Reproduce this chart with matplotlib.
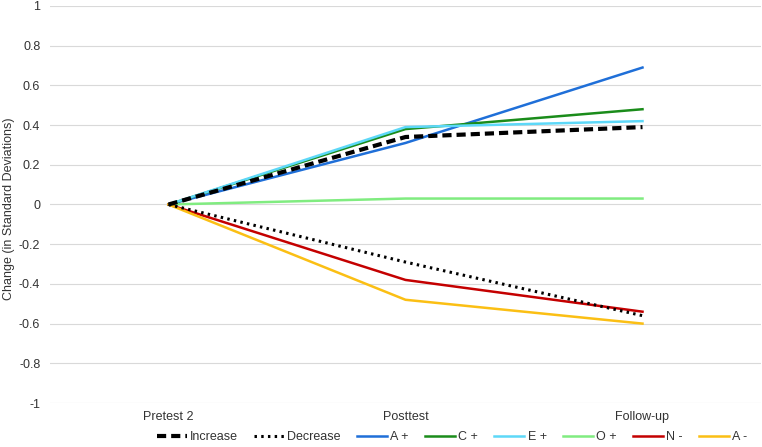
import matplotlib
matplotlib.use("Agg")
import matplotlib.pyplot as plt

plt.rcParams['font.family'] = ['Liberation Sans', 'DejaVu Sans']

categories = ["Pretest 2", "Posttest", "Follow-up"]
increase = [0, 0.34, 0.39]
decrease = [0, -0.29, -0.56]
a_plus = [0, 0.31, 0.69]
c_plus = [0, 0.38, 0.48]
e_plus = [0, 0.39, 0.42]
o_plus = [0, 0.03, 0.03]
n_minus = [0, -0.38, -0.54]
a_minus = [0, -0.48, -0.60]
yticks = [-1, -0.8, -0.6, -0.4, -0.2, 0, 0.2, 0.4, 0.6, 0.8, 1]
ytick_labels = ["-1", "-0.8", "-0.6", "-0.4", "-0.2", "0", "0.2", "0.4", "0.6", "0.8", "1"]

fig = plt.figure(figsize=(7.62, 4.47), dpi=100)
ax = fig.add_axes([50/762, 1-403/447, 711/762, 397/447])

x = list(range(len(categories)))
ax.plot(x, a_plus, color='#1F6FD8', lw=1.8, label='A +', zorder=3)
ax.plot(x, c_plus, color='#1A8C1A', lw=1.8, label='C +', zorder=3)
ax.plot(x, e_plus, color='#5DD8F8', lw=1.8, label='E +', zorder=3)
ax.plot(x, o_plus, color='#80EC80', lw=1.8, label='O +', zorder=3)
ax.plot(x, n_minus, color='#C40000', lw=1.8, label='N -', zorder=3)
ax.plot(x, a_minus, color='#FBBF14', lw=1.8, label='A -', zorder=3)
ax.plot(x, increase, color='black', lw=3, ls=(0, (2.2, 1.2)), label='Increase', zorder=4)
ax.plot(x, decrease, color='black', lw=2.2, ls=(0, (0.8, 1.4)), label='Decrease', zorder=4)

ax.set_xlim(-0.5, 2.5)
ax.set_ylim(-1, 1)
ax.set_yticks(yticks)
ax.set_yticklabels(ytick_labels)
ax.set_xticks(x)
ax.set_xticklabels(categories)
ax.grid(axis='y', color='#D9D9D9', lw=0.8)
ax.set_axisbelow(True)
for s in ax.spines.values():
    s.set_visible(False)
ax.tick_params(axis='both', length=0, labelsize=9, colors='#333333')
ax.tick_params(axis='y', pad=7)
ax.tick_params(axis='x', pad=6)
ax.set_ylabel("Change (in Standard Deviations)", fontsize=9, color='#333333')
ax.yaxis.set_label_coords(-0.049, 0.49)

handles, labels = ax.get_legend_handles_labels()
order = [6, 7, 0, 1, 2, 3, 4, 5]
fig.legend([handles[i] for i in order], [labels[i] for i in order],
           loc='center', bbox_to_anchor=(452/762, 1-437/447), ncol=8, frameon=False,
           fontsize=9, handlelength=2.4, handletextpad=0.25, columnspacing=1.3,
           labelcolor='#333333', borderpad=0.1)

fig.savefig("out.png", dpi=100)
